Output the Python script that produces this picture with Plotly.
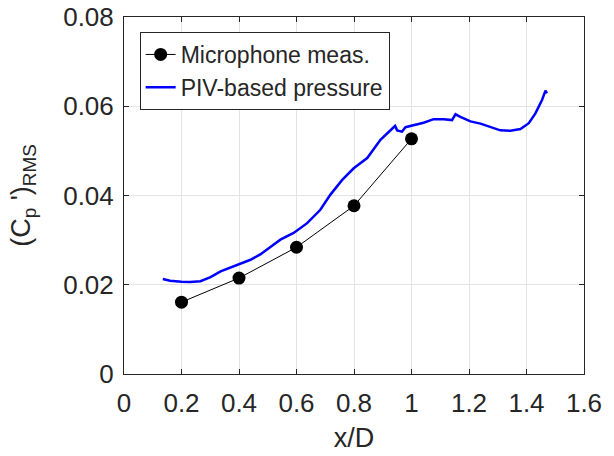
import plotly.graph_objects as go

# Microphone measurements
mic_x = [0.2, 0.4, 0.6, 0.8, 1.0]
mic_y = [0.0161, 0.0215, 0.0284, 0.0377, 0.0527]

# PIV-based pressure
piv_x = [0.135, 0.16, 0.2, 0.23, 0.266, 0.301, 0.336, 0.37, 0.405, 0.44, 0.474, 0.51,
         0.544, 0.59, 0.637, 0.683, 0.718, 0.759, 0.799, 0.846, 0.892, 0.938, 0.943,
         0.95, 0.967, 0.979, 1.008, 1.042, 1.077, 1.112, 1.141, 1.153, 1.170, 1.205,
         1.240, 1.274, 1.309, 1.344, 1.379, 1.408, 1.431, 1.454, 1.466, 1.471]
piv_y = [0.0213, 0.0209, 0.0207, 0.0206, 0.0208, 0.0217, 0.0230, 0.0238, 0.0247, 0.0256,
         0.0268, 0.0286, 0.0301, 0.0316, 0.0338, 0.0368, 0.0402, 0.0435, 0.0461, 0.0484,
         0.0525, 0.0553, 0.0556, 0.0546, 0.0543, 0.0553, 0.0558, 0.0563, 0.0571, 0.0571,
         0.0569, 0.0582, 0.0576, 0.0566, 0.0561, 0.0553, 0.0546, 0.0545, 0.0549, 0.0562,
         0.0584, 0.0614, 0.0635, 0.0629]

x_ticks = [0, 0.2, 0.4, 0.6, 0.8, 1.0, 1.2, 1.4, 1.6]
x_labels = ["0", "0.2", "0.4", "0.6", "0.8", "1", "1.2", "1.4", "1.6"]
y_ticks = [0, 0.02, 0.04, 0.06, 0.08]
y_labels = ["0", "0.02", "0.04", "0.06", "0.08"]

FONT = "Liberation Sans, Arial, Helvetica, sans-serif"
AX = "#262626"

fig = go.Figure()
fig.add_trace(go.Scatter(
    x=mic_x, y=mic_y, mode="lines+markers", name="Microphone meas.",
    line=dict(color="black", width=1),
    marker=dict(color="black", size=13, symbol="circle"),
))
fig.add_trace(go.Scatter(
    x=piv_x, y=piv_y, mode="lines", name="PIV-based pressure",
    line=dict(color="#0000ff", width=2.5),
))

axis_common = dict(
    showline=True, linecolor=AX, linewidth=1, mirror="ticks",
    ticks="inside", ticklen=5, tickcolor=AX, tickwidth=1,
    showgrid=True, gridcolor="#e3e3e3", gridwidth=1, zeroline=False,
    tickfont=dict(family=FONT, size=26, color=AX),
    automargin=False, ticklabeloverflow="allow",
)

fig.update_xaxes(range=[0, 1.6], tickvals=x_ticks, ticktext=x_labels,
                 ticklabelstandoff=6,
                 title=dict(text="x/D", font=dict(family=FONT, size=27, color=AX), standoff=10),
                 **axis_common)
fig.update_yaxes(range=[0, 0.08], tickvals=y_ticks, ticktext=y_labels,
                 ticklabelstandoff=4,
                 title=dict(text="(C<sub>p</sub> ')<sub>RMS</sub>",
                            font=dict(family=FONT, size=27, color=AX), standoff=24),
                 **axis_common)

fig.update_layout(
    width=614, height=456,
    margin=dict(l=123.5, r=30.3, t=17, b=81.5, autoexpand=False),
    paper_bgcolor="white", plot_bgcolor="white",
    showlegend=True,
    legend=dict(x=0.034, y=0.958, xanchor="left", yanchor="top",
                bgcolor="white", bordercolor=AX, borderwidth=1,
                font=dict(family=FONT, size=23, color=AX),
                itemwidth=30, tracegroupgap=0),
)

fig.write_html("out.html", config={"displayModeBar": False},
               post_script="document.body.style.margin='0';")
